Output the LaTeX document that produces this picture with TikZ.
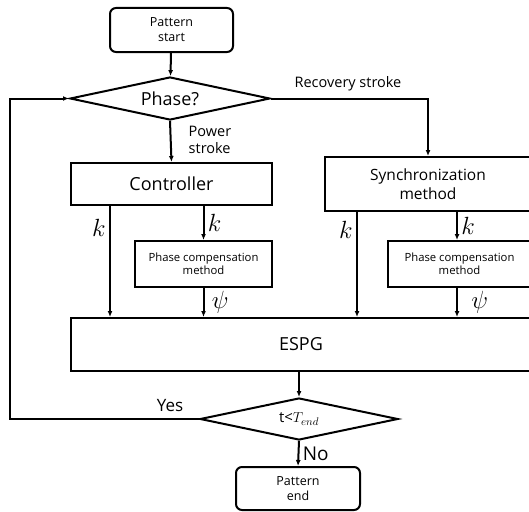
\documentclass[tikz,border=0pt]{standalone}
\usepackage{amsmath}
\usepackage{fontspec}
\setmainfont{Open Sans}
\usetikzlibrary{shapes.geometric,arrows.meta,calc}

\begin{document}
\begin{tikzpicture}[x=1pt,y=-1pt,
	line width=2pt,
	term/.style={draw,rounded corners=6pt,align=center,inner sep=0pt,font=\fontsize{12.5}{15}\selectfont},
	cond/.style={draw,diamond,aspect=4.6,inner sep=0pt},
	proc/.style={draw,align=center,inner sep=0pt,font=\fontsize{18}{20}\selectfont},
	smallproc/.style={draw,align=center,inner sep=0pt,font=\fontsize{11.3}{13}\selectfont},
	arr/.style={-{Latex[length=6pt,width=5pt]}},
	lbl/.style={font=\fontsize{14.5}{17}\selectfont,align=left},
	var/.style={font=\fontsize{24}{24}\selectfont}]

	\useasboundingbox (0,0) rectangle (529,511);
	\clip (0,0) rectangle (529,511);

	% terminals and decisions
	\node[term,minimum width=123pt,minimum height=44pt] (start) at (171.5,30) {Pattern\\start};
	\node[cond,minimum width=200pt,minimum height=43pt,font=\fontsize{18}{20}\selectfont] (phase) at (170,98.5) {Phase?};
	\node[cond,minimum width=198pt,minimum height=42pt,font=\fontsize{15}{17}\selectfont] (tend) at (299,419) {t<$T_{end}$};
	\node[term,minimum width=124pt,minimum height=43pt] (stop) at (298,488.5) {Pattern\\end};

	% blocks
	\node[proc,minimum width=201pt,minimum height=42pt] (ctrl) at (171.5,184) {Controller};
	\node[proc,minimum width=206pt,minimum height=54pt,font=\fontsize{15.5}{19}\selectfont] (sync) at (428,184) {Synchronization\\method};
	\node[smallproc,minimum width=137pt,minimum height=46pt] (comp1) at (203.5,264) {Phase compensation\\method};
	\node[smallproc,minimum width=143pt,minimum height=46pt] (comp2) at (459.5,264) {Phase compensation\\method};
	\node[proc,minimum width=460pt,minimum height=53pt] (espg) at (301,344.5) {ESPG};

	% branches from the phase test
	\draw[arr] (start) -- (phase);
	\draw[arr] (phase.east) -| (sync.north);
	\node[lbl] (rec) at (348,84) {Recovery stroke};
	\draw[arr] (phase.south) -- (ctrl.north);
	\node[lbl] (pow) at (210,140) {Power\\stroke};

	% gains and phases into ESPG
	\draw[arr] ([xshift=40pt]ctrl.south west) -- ([xshift=40pt]ctrl.south west |- espg.north) node[pos=0.2,left,var] (k1) {$k$};
	\draw[arr] (comp1.north |- ctrl.south) -- (comp1.north) node[midway,right,var] (k2) {$k$};
	\draw[arr] (comp1.south) -- (comp1.south |- espg.north) node[midway,right,xshift=4pt,var] (p1) {$\psi$};
	\draw[arr] ([xshift=33pt]sync.south west) -- ([xshift=33pt]sync.south west |- espg.north) node[pos=0.17,left,var] (k3) {$k$};
	\draw[arr] ([xshift=-2.5pt]comp2.north |- sync.south) -- ([xshift=-2.5pt]comp2.north) node[midway,right,var] (k4) {$k$};
	\draw[arr] ([xshift=-2.5pt]comp2.south) -- ([xshift=-2.5pt]comp2.south |- espg.north) node[midway,right,xshift=10pt,var] (p2) {$\psi$};

	% end test and loop back
	\draw[arr] (tend.north |- espg.south) -- (tend.north);
	\draw[arr] (tend.west) -- (10,419) |- (phase.west);
	\node[lbl,font=\fontsize{17}{19}\selectfont] (yes) at (170,406) {Yes};
	\draw[arr] (tend.south) -- (stop.north) node[midway,right,font=\fontsize{19}{21}\selectfont] (no) {No};
\end{tikzpicture}
\end{document}
